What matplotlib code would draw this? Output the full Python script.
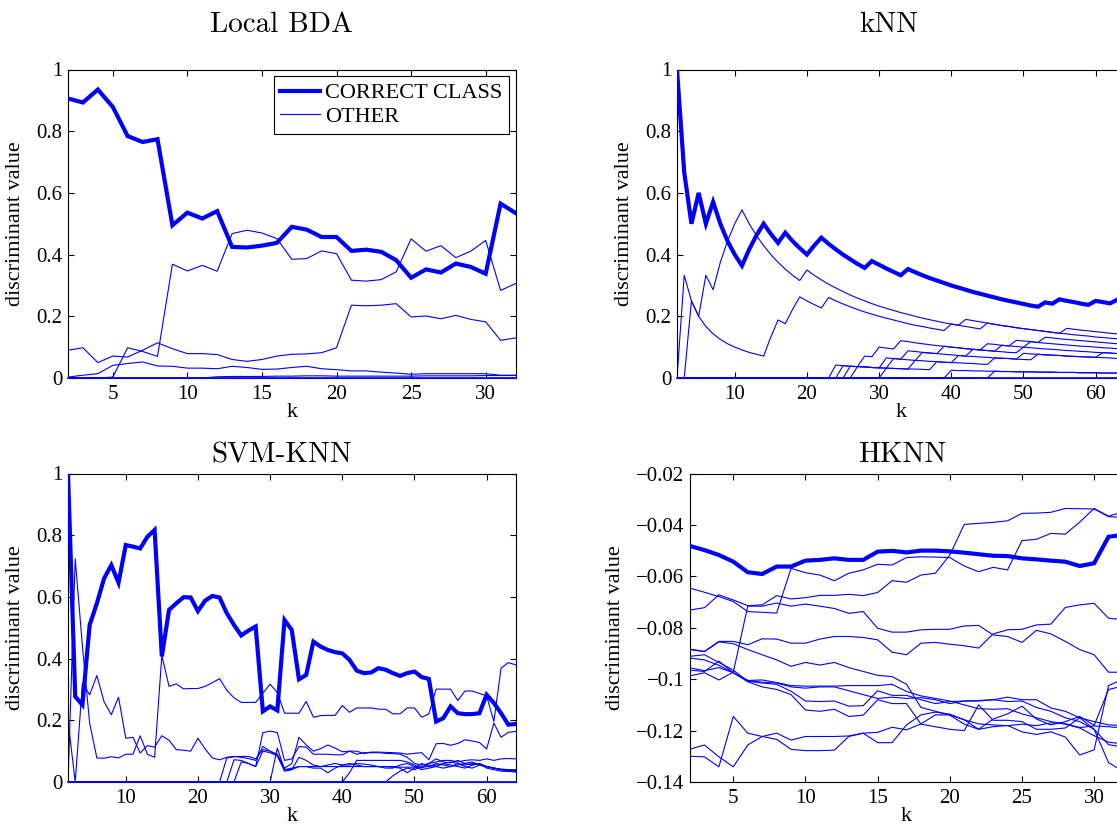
import numpy as np
import matplotlib
matplotlib.use('Agg')
import matplotlib.pyplot as plt
from matplotlib.lines import Line2D
from matplotlib.ticker import FuncFormatter

# ---------------- Local BDA (k = 2..32) ----------------
bda_k = np.arange(2, 33)
bda_correct = [.906, .893, .935, .879, .784, .765, .774, .495, .536, .517,
               .541, .425, .423, .429, .438, .49, .481, .457, .457, .412,
               .416, .409, .382, .325, .352, .342, .371, .36, .338, .565, .535]
bda_other_1 = [0, 0, 0, .003, .098, .086, .07, .369, .347, .365,
               .346, .468, .479, .47, .452, .385, .387, .412, .403, .317,
               .314, .319, .344, .451, .411, .429, .39, .411, .446, .284, .306]
bda_other_2 = [.09, .098, .05, .071, .068, .09, .114, .095, .079, .079,
               .076, .06, .054, .06, .071, .077, .078, .082, .098, .236,
               .234, .236, .241, .198, .201, .192, .203, .19, .182, .122, .13]
bda_other_3 = [.003, .009, .014, .041, .047, .052, .039, .038, .032, .032,
               .03, .038, .034, .028, .029, .034, .038, .03, .027, .023,
               .023, .019, .016, .012, .014, .014, .014, .014, .014, .009, .009]
bda_other_4 = [0] * 10 + [.004, .005, .005, .005, .006, .006, .007, .007, .006, .006,
                          .006, .006, .006, .006, .007, .007, .007, .007, .008, .008, .008]
bda_zero = [0] * 31

# ---------------- kNN (k = 2..64) ----------------
knn_k = np.arange(2, 65)
knn_correct = [1.0, .667, .5, .6, .5, .571, .5, .444, .4, .364,
               .417, .462, .5, .467, .438, .471, .444, .421, .4, .429,
               .455, .435, .417, .4, .385, .370, .357, .379, .367, .355,
               .344, .333, .353, .343, .333, .324, .316, .308, .3, .293,
               .286, .279, .273, .267, .261, .255, .25, .245, .24, .235,
               .231, .245, .241, .255, .25, .246, .241, .237, .25, .246,
               .242, .254, .25]
knn_other_1 = [0, .333, .25, .2, .167, .143, .125, .111, .1, .091,
               .083, .077, .071, .133, .188, .176, .222, .263, .25, .238,
               .227, .261, .25, .24, .231, .222, .214, .207, .2, .194,
               .188, .182, .176, .171, .167, .162, .158, .154, .175, .171,
               .167, .163, .159, .178, .174, .170, .167, .163, .16, .157,
               .154, .151, .148, .145, .143, .140, .138, .136, .133, .131,
               .129, .127, .125]
knn_other_2 = [0, 0, .25, .2, .333, .286, .375, .444, .5, .545,
               .5, .462, .429, .4, .375, .353, .333, .316, .35, .333,
               .318, .304, .292, .28, .269, .259, .25, .241, .233, .226,
               .219, .212, .206, .2, .194, .189, .184, .179, .175, .171,
               .190, .186, .182, .178, .174, .170, .167, .163, .16, .157,
               .154, .151, .148, .145, .161, .158, .155, .153, .15, .148,
               .145, .143, .141]
knn_other_3 = [0] * 22 + [.042, .04, .038, .037, .071, .069, .1, .097,
                          .094, .121, .118, .114, .111, .108, .105, .103, .1, .098,
                          .095, .093, .091, .111, .109, .106, .104, .122, .12, .118,
                          .115, .132, .130, .127, .125, .123, .121, .119, .117, .115,
                          .113, .111, .109]
knn_other_4 = [0] * 23 + [.04, .038, .037, .036, .034, .033, .065,
                          .063, .061, .088, .086, .083, .081, .079, .103, .1, .098,
                          .095, .093, .091, .089, .087, .106, .104, .102, .1, .118,
                          .115, .113, .111, .109, .107, .105, .103, .102, .1, .098,
                          .097, .095, .094]
knn_other_5 = [0] * 24 + [.038, .037, .036, .034, .033, .032,
                          .063, .061, .059, .057, .083, .081, .079, .077, .075, .073,
                          .071, .093, .091, .089, .087, .085, .083, .082, .1, .098,
                          .096, .094, .093, .091, .089, .088, .086, .085, .083, .082,
                          .081, .079, .078]
knn_other_6 = [0] * 25 + [.037, .036, .034, .033, .032,
                          .031, .030, .029, .057, .056, .054, .053, .051, .05, .073,
                          .071, .070, .068, .067, .065, .064, .063, .061, .08, .078,
                          .077, .075, .074, .073, .071, .070, .069, .068, .067, .082,
                          .081, .079, .078]
knn_other_7 = [0] * 29 + [.032,
                          .031, .030, .029, .029, .028, .027, .053, .051, .05, .049,
                          .048, .047, .045, .044, .065, .064, .063, .061, .06, .059,
                          .077, .075, .074, .073, .071, .070, .069, .068, .067, .066,
                          .065, .063, .063]
knn_other_8 = [0] * 38 + [.025, .024, .024, .023, .023, .022, .022, .021, .021, .020,
                          .020, .020, .019, .019, .019, .018, .018, .018, .017, .017,
                          .017, .016, .016, .016, .016]
knn_other_9 = [0] * 44 + [.022, .021, .021, .020, .020, .020, .019, .019, .019, .018,
                          .018, .018, .017, .017, .017, .016, .016, .016, .016]
knn_zero = [0] * 63

# ---------------- SVM-KNN (k = 2..64) ----------------
svm_k = np.arange(2, 65)
svm_correct = [1.0, .277, .25, .509, .579, .66, .703, .646, .768, .763,
               .757, .795, .817, .407, .558, .579, .599, .598, .554, .588,
               .603, .598, .547, .509, .475, .491, .504, .229, .245, .232,
               .525, .493, .333, .347, .455, .439, .428, .421, .417, .396,
               .361, .353, .355, .369, .364, .353, .344, .353, .358, .34,
               .334, .196, .207, .245, .223, .22, .22, .223, .283, .256,
               .223, .186, .188]
svm_other_1 = [0, .723, .44, .19, .078, .077, .082, .078, .09, .09,
               .15, .09, .08, .41, .31, .318, .302, .303, .303, .31,
               .322, .335, .297, .273, .258, .258, .258, .288, .317, .29,
               .223, .223, .223, .261, .21, .215, .216, .216, .248, .226,
               .24, .24, .24, .236, .236, .221, .221, .24, .24, .21,
               .221, .301, .301, .301, .264, .295, .295, .287, .279, .196,
               .369, .387, .38]
svm_other_2 = [.2, 0, .32, .283, .345, .26, .218, .275, .142, .145,
               .094, .118, .113, .15, .135, .105, .103, .1, .142, .107,
               .078, .072, .08, .083, .08, .076, .07, .115, .1, .09,
               .045, .06, .145, .12, .1, .108, .12, .11, .098, .1,
               .1, .092, .097, .097, .096, .095, .094, .09, .093, .095,
               .072, .124, .125, .119, .125, .137, .133, .128, .107, .191,
               .145, .161, .164]
svm_other_3 = [0] * 22 + [.078, .082, .083, .083, .075, .105, .1, .085, .04, .04,
                          .05, .05, .05, .05, .05, .05, .05, .05, .05, .05,
                          .05, .05, .05, .05, .048, .048, .048, .048, .05, .055,
                          .06, .065, .06, .055, .06, .058, .05, .045, .04, .038,
                          .038]
svm_other_4 = [0] * 23 + [.072, .07, .06, .05, .16, .165, .16, .07, .075, .115,
                          .113, .09, .09, .09, .088, .088, .1, .09, .095, .095,
                          .095, .093, .092, .09, .08, .06, .055, .06, .065, .07,
                          .07, .065, .07, .072, .07, .075, .07, .075, .076, .075]
svm_other_5 = [0] * 24 + [.065, .06, .05, .1, .095, .085, .035, .04, .08, .07,
                          .055, .05, .055, .06, .055, .055, .06, .058, .055, .05,
                          .05, .048, .045, .03, .045, .06, .05, .06, .055, .05,
                          .06, .05, .045, .055, .05, .045, .04, .035, .035]
svm_other_6 = [0] * 29 + [.11, .04, .045, .05, .05, .045, .045, .03, .045, .055,
                          .06, .055, .05, .05, .05, .045, .045, .055, .06, .05,
                          .04, .045, .05, .06, .055, .05, .045, .055, .06, .045,
                          .04, .035, .035, .032]
svm_other_7 = [0] * 39 + [.03, .07, .07, .07, .07, .07, .07, .07, .065, .055,
                          .045, .06, .075, .065, .062, .07, .06, .055, .06, .05,
                          .045, .042, .04, .04]
svm_other_8 = [0] * 45 + [.02, .035, .045, .04, .05, .055, .05, .045, .05, .055,
                          .06, .065, .055, .05, .045, .04, .035, .035]
svm_zero = [0] * 63

# ---------------- HKNN (k = 2..32) ----------------
hk_k = np.arange(2, 33)
hk_correct = [-.0482, -.0498, -.0517, -.0543, -.0584, -.0591, -.0562, -.0562, -.0539, -.0536,
              -.053, -.0536, -.0536, -.0504, -.0501, -.0507, -.05, -.05, -.0503, -.0508,
              -.0514, -.052, -.0521, -.053, -.0534, -.0539, -.0543, -.056, -.0549, -.0446, -.0439]
hk_other_1 = [-.0731, -.0722, -.0672, -.0692, -.0714, -.0711, -.0675, -.0688, -.0683, -.0674,
              -.0674, -.067, -.0675, -.0663, -.0617, -.0623, -.0595, -.0588, -.0517, -.0398,
              -.0394, -.039, -.0384, -.0355, -.0354, -.0351, -.0336, -.0337, -.0338, -.0368, -.0371]
hk_other_2 = [-.0646, -.0662, -.0679, -.0698, -.0737, -.074, -.0743, -.0569, -.0586, -.0595,
              -.0617, -.0588, -.0575, -.0553, -.0556, -.0527, -.0524, -.0525, -.0527, -.056,
              -.0582, -.0565, -.0575, -.0461, -.0456, -.0433, -.0436, -.0389, -.0336, -.0366, -.0349]
hk_other_3 = [-.0883, -.0892, -.0853, -.0853, -.0866, -.0843, -.0844, -.086, -.086, -.0844,
              -.0834, -.0834, -.0838, -.0847, -.0895, -.0905, -.086, -.0857, -.0864, -.087,
              -.0879, -.0824, -.0808, -.0806, -.0789, -.0786, -.0721, -.0711, -.0705, -.0763, -.0769]
hk_other_4 = [-.0987, -.0975, -.1003, -.0973, -.0716, -.0716, -.0704, -.0716, -.0708, -.0716,
              -.0725, -.0744, -.0737, -.0802, -.0817, -.0817, -.0808, -.0806, -.0806, -.0793,
              -.0791, -.0828, -.0834, -.0857, -.081, -.0824, -.0853, -.0885, -.0905, -.0973, -.0973]
hk_other_5 = [-.0911, -.0905, -.0935, -.0965, -.1008, -.1015, -.102, -.1047, -.1085, -.1087,
              -.1085, -.1105, -.1103, -.1045, -.1063, -.1063, -.108, -.1095, -.1087, -.1085,
              -.1083, -.108, -.1087, -.1085, -.111, -.1125, -.115, -.1165, -.1195, -.1325, -.1358]
hk_other_6 = [-.0918, -.0925, -.0946, -.0975, -.1005, -.1003, -.1013, -.1025, -.1027, -.1027,
              -.1027, -.1025, -.1025, -.1025, -.102, -.1048, -.1065, -.1075, -.1085, -.11,
              -.1115, -.1117, -.1115, -.1135, -.115, -.1165, -.1175, -.119, -.122, -.1245, -.1252]
hk_other_7 = [-.0956, -.0967, -.0955, -.0975, -.101, -.103, -.104, -.106, -.112, -.1125,
              -.1117, -.1145, -.114, -.108, -.1095, -.1095, -.1175, -.1185, -.1195, -.12,
              -.11, -.116, -.116, -.1165, -.1195, -.1195, -.119, -.115, -.1195, -.1255, -.1264]
hk_other_8 = [-.0885, -.0893, -.0855, -.0862, -.0885, -.0905, -.0925, -.095, -.0935, -.0945,
              -.0935, -.0955, -.097, -.0985, -.099, -.102, -.111, -.1125, -.114, -.1175,
              -.1195, -.1155, -.1135, -.1105, -.1155, -.1178, -.1165, -.1145, -.118, -.104, -.1027]
hk_other_9 = [-.0965, -.097, -.093, -.0975, -.1005, -.1012, -.1015, -.103, -.1035, -.103,
              -.103, -.1045, -.106, -.1075, -.107, -.1075, -.1072, -.108, -.1095, -.1085,
              -.1085, -.108, -.107, -.108, -.108, -.1112, -.1125, -.115, -.1165, -.1178, -.118]
hk_other_10 = [-.1272, -.1256, -.1302, -.1341, -.1256, -.1223, -.121, -.1237, -.1223, -.1223,
               -.1223, -.1221, -.121, -.1207, -.1187, -.1197, -.1174, -.1139, -.1139, -.1158,
               -.1195, -.1185, -.118, -.1205, -.1215, -.1205, -.1225, -.1295, -.1275, -.1025, -.100]
hk_other_11 = [-.13, -.1302, -.1341, -.1145, -.121, -.1223, -.1234, -.1273, -.1278, -.1278,
               -.1276, -.1223, -.121, -.1247, -.1247, -.1178, -.1139, -.1128, -.1136, -.1158,
               -.1174, -.1178, -.1181, -.1175, -.1181, -.117, -.1173, -.1188, -.1182, -.1185, -.119]

BLUE = '#0000ff'
W, H = 1117, 825


def fmt(v, pos):
    return ('%g' % round(v, 4)).replace('-', '\u2212')


def draw_panel(ax, k, correct, others, zeros, title, title_x, title_pad,
               xlim, xticks, ylim, yticks):
    for vals in others:
        ax.plot(k, vals, color=BLUE, lw=0.8)
    for vals in zeros:
        ax.plot(k, vals, color=BLUE, lw=1.2, clip_on=False, zorder=3)
    ax.plot(k, correct, color=BLUE, lw=3.0, solid_joinstyle='miter', zorder=4)
    ax.set_xlim(*xlim)
    ax.set_ylim(*ylim)
    ax.set_xticks(xticks)
    ax.set_yticks(yticks)
    ax.yaxis.set_major_formatter(FuncFormatter(fmt))
    ax.tick_params(direction='in', top=True, right=True, length=4, width=0.8,
                   labelsize=15, pad=4)
    ax.tick_params(axis='x', pad=5)
    for s in ax.spines.values():
        s.set_linewidth(0.8)
    ax.set_xlabel('k', fontsize=16, labelpad=-1)
    ax.set_ylabel('discriminant value', fontsize=16, labelpad=8)
    ax.set_title(title, family='cmr10', fontsize=21, x=title_x, pad=title_pad)


def main():
    plt.rcParams['font.family'] = ['Liberation Serif', 'DejaVu Serif']
    plt.rcParams['axes.unicode_minus'] = True
    fig = plt.figure(figsize=(W / 100, H / 100), dpi=100)

    # axes placed in pixel units; right column runs past the figure edge
    def place(x0, y_top, w=447.5, h=308.5):
        return fig.add_axes([x0 / W, (H - y_top - h) / H, w / W, h / H])

    ax1 = place(68, 69.5)
    ax2 = place(677, 69.5)
    ax3 = place(68, 473.5)
    ax4 = place(690, 473.5, w=433)

    draw_panel(ax1, bda_k, bda_correct,
               [bda_other_1, bda_other_2, bda_other_3, bda_other_4], [bda_zero],
               'Local BDA', 0.477, 27,
               (2, 32), [5, 10, 15, 20, 25, 30], (0, 1), [0, .2, .4, .6, .8, 1])
    draw_panel(ax2, knn_k, knn_correct,
               [knn_other_1, knn_other_2, knn_other_3, knn_other_4, knn_other_5,
                knn_other_6, knn_other_7, knn_other_8, knn_other_9], [knn_zero],
               'kNN', 0.474, 27,
               (2, 64), [10, 20, 30, 40, 50, 60], (0, 1), [0, .2, .4, .6, .8, 1])
    draw_panel(ax3, svm_k, svm_correct,
               [svm_other_1, svm_other_2, svm_other_3, svm_other_4, svm_other_5,
                svm_other_6, svm_other_7, svm_other_8], [svm_zero],
               'SVM-KNN', 0.477, 8,
               (2, 64), [10, 20, 30, 40, 50, 60], (0, 1), [0, .2, .4, .6, .8, 1])
    draw_panel(ax4, hk_k, hk_correct,
               [hk_other_1, hk_other_2, hk_other_3, hk_other_4, hk_other_5,
                hk_other_6, hk_other_7, hk_other_8, hk_other_9, hk_other_10,
                hk_other_11], [],
               'HKNN', 0.49, 8,
               (2, 32), [5, 10, 15, 20, 25, 30], (-0.14, -0.02),
               [-.14, -.12, -.1, -.08, -.06, -.04, -.02])

    handles = [Line2D([], [], color=BLUE, lw=3.0), Line2D([], [], color=BLUE, lw=0.8)]
    leg = ax1.legend(handles, ['CORRECT CLASS', 'OTHER'], loc='upper right',
                     fontsize=16, frameon=True, fancybox=False, framealpha=1,
                     edgecolor='black', borderaxespad=0.3, handlelength=1.8,
                     borderpad=0.3, labelspacing=0.15, handletextpad=0.2)
    leg.get_frame().set_linewidth(0.8)

    fig.savefig('out.png', dpi=100)


if __name__ == '__main__':
    main()
